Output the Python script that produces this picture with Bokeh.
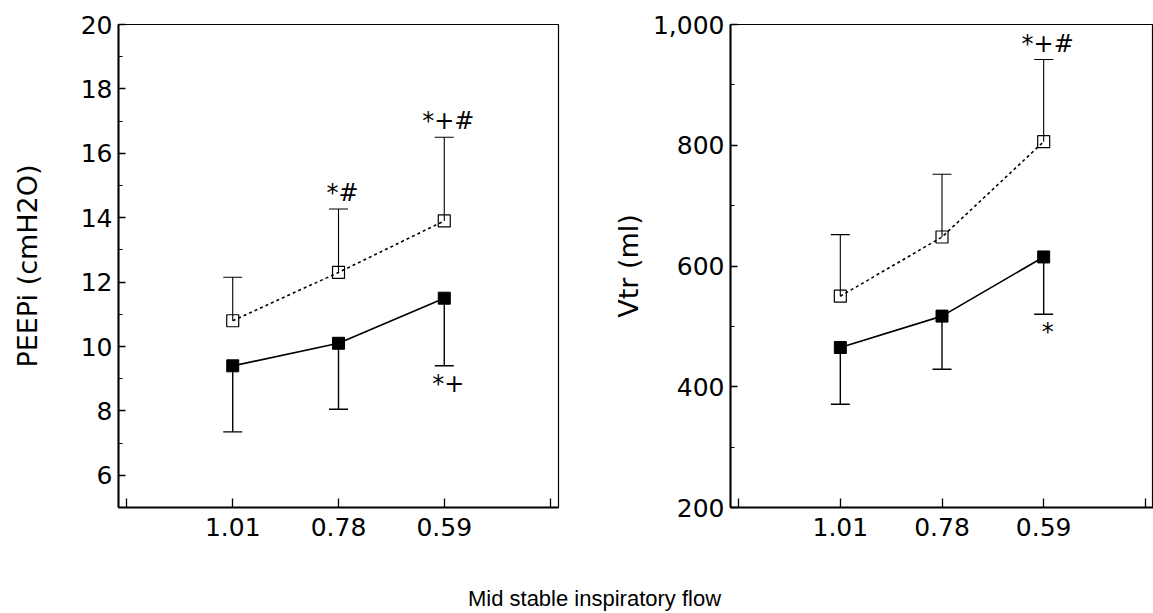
from bokeh.plotting import figure
from bokeh.models import FixedTicker, NumeralTickFormatter, Whisker, TeeHead, ColumnDataSource, Range1d, Label
from bokeh.layouts import row, column
from bokeh.embed import file_html
from bokeh.resources import INLINE
from bokeh.core.properties import value

# ---- data ----
categories = ["1.01", "0.78", "0.59"]

peepi_open_mean = [10.8, 12.3, 13.9]
peepi_open_sd = [1.35, 1.97, 2.6]
peepi_filled_mean = [9.4, 10.1, 11.5]
peepi_filled_sd = [2.05, 2.05, 2.1]
peepi_open_marks = ["", "*#", "*+#"]
peepi_filled_marks = ["", "", "*+"]

vtr_open_mean = [550, 648, 806]
vtr_open_sd = [102, 104, 136]
vtr_filled_mean = [465, 517, 615]
vtr_filled_sd = [94, 88, 95]
vtr_open_marks = ["", "", "*+#"]
vtr_filled_marks = ["", "", "*"]

peepi_ticks = [6, 8, 10, 12, 14, 16, 18, 20]
peepi_minor = [7, 9, 11, 13, 15, 17, 19]
vtr_ticks = [200, 400, 600, 800, 1000]
vtr_minor = [300, 500, 700, 900]

x_label = "Mid stable inspiratory flow"
FONT = "DejaVu Sans"


def make_panel(width, left_border, right_border, yr, yticks, yminor, ylabel,
               o_mean, o_sd, o_marks, f_mean, f_sd, f_marks, yfmt=None, label_standoff=30):
    xs = [i + 1 for i in range(len(categories))]
    p = figure(width=width, height=560, output_backend="svg", toolbar_location=None,
               x_range=Range1d(-0.08, len(categories) + 1.08), y_range=Range1d(*yr),
               min_border_left=left_border, min_border_right=right_border,
               min_border_top=24, min_border_bottom=53)
    p.grid.visible = False
    p.outline_line_color = "black"
    p.outline_line_width = 1.2
    p.background_fill_color = "white"
    p.border_fill_color = "white"

    # x axis
    xa = p.xaxis[0]
    xa.ticker = FixedTicker(ticks=list(range(0, len(categories) + 2)), minor_ticks=[])
    overrides = {0: "", len(categories) + 1: ""}
    for i, c in enumerate(categories):
        overrides[i + 1] = c
    xa.major_label_overrides = overrides
    xa.major_tick_in = 9
    xa.major_tick_out = 0
    xa.minor_tick_in = 0
    xa.minor_tick_out = 0
    xa.axis_line_width = 2
    xa.major_tick_line_width = 1.3
    xa.major_label_standoff = 10
    xa.major_label_text_font = FONT
    xa.major_label_text_font_size = "25px"
    xa.major_label_text_color = "black"

    # y axis
    ya = p.yaxis[0]
    ya.ticker = FixedTicker(ticks=yticks, minor_ticks=yminor)
    if yfmt:
        ya.formatter = yfmt
    ya.major_tick_in = 7
    ya.major_tick_out = 0
    ya.minor_tick_in = 4
    ya.minor_tick_out = 0
    ya.axis_line_width = 2
    ya.major_tick_line_width = 1.3
    ya.major_label_standoff = 6
    ya.major_label_text_font = FONT
    ya.major_label_text_font_size = "25px"
    ya.major_label_text_color = "black"
    ya.axis_label = ylabel
    ya.axis_label_text_font = FONT
    ya.axis_label_text_font_size = "27px"
    ya.axis_label_text_font_style = "normal"
    ya.axis_label_text_color = "black"
    ya.axis_label_standoff = label_standoff

    o_up = [m + s for m, s in zip(o_mean, o_sd)]
    f_lo = [m - s for m, s in zip(f_mean, f_sd)]
    src = ColumnDataSource(dict(x=xs, om=o_mean, oup=o_up, fm=f_mean, flo=f_lo,
                                otxt=o_marks, ftxt=f_marks))

    # error bars
    p.add_layout(Whisker(source=src, base="x", lower="om", upper="oup",
                         upper_head=TeeHead(size=19, line_width=1.1, line_color="black"),
                         lower_head=None, line_width=1.1, line_color="black"))
    p.add_layout(Whisker(source=src, base="x", lower="flo", upper="fm",
                         lower_head=TeeHead(size=19, line_width=1.4, line_color="black"),
                         upper_head=None, line_width=1.4, line_color="black"))

    # lines
    p.line("x", "om", source=src, line_color="black", line_width=1.6, line_dash="3 3")
    p.line("x", "fm", source=src, line_color="black", line_width=1.7)

    # markers
    p.scatter("x", "om", source=src, marker="square", size=12, fill_color=None,
              line_color="black", line_width=1.2)
    p.scatter("x", "fm", source=src, marker="square", size=12, fill_color="black",
              line_color="black")

    # significance marks
    p.text("x", "oup", text="otxt", source=src, text_align="center", text_baseline="middle",
           x_offset=4, y_offset=-16, text_font=value(FONT), text_font_size="24px",
           text_color="black")
    p.text("x", "flo", text="ftxt", source=src, text_align="center", text_baseline="middle",
           x_offset=4, y_offset=18, text_font=value(FONT), text_font_size="24px",
           text_color="black")
    return p


p1 = make_panel(580, 118, 22, (5, 20), peepi_ticks, peepi_minor, "PEEPi (cmH2O)",
                peepi_open_mean, peepi_open_sd, peepi_open_marks,
                peepi_filled_mean, peepi_filled_sd, peepi_filled_marks, label_standoff=35)
p2 = make_panel(573, 150, 0, (200, 1000), vtr_ticks, vtr_minor, "Vtr (ml)",
                vtr_open_mean, vtr_open_sd, vtr_open_marks,
                vtr_filled_mean, vtr_filled_sd, vtr_filled_marks,
                yfmt=NumeralTickFormatter(format="0,0"), label_standoff=6)

p3 = figure(width=1153, height=53, output_backend="svg", toolbar_location=None,
            x_range=Range1d(0, 1153), y_range=Range1d(0, 53),
            min_border=0)
p3.axis.visible = False
p3.grid.visible = False
p3.outline_line_color = None
p3.add_layout(Label(x=594, y=15, text=x_label, text_align="center", text_baseline="middle",
                    text_font="Liberation Sans", text_font_size="22px", text_color="black"))

layout = column(row(p1, p2), p3)
open("out.html", "w").write(file_html(layout, INLINE))
